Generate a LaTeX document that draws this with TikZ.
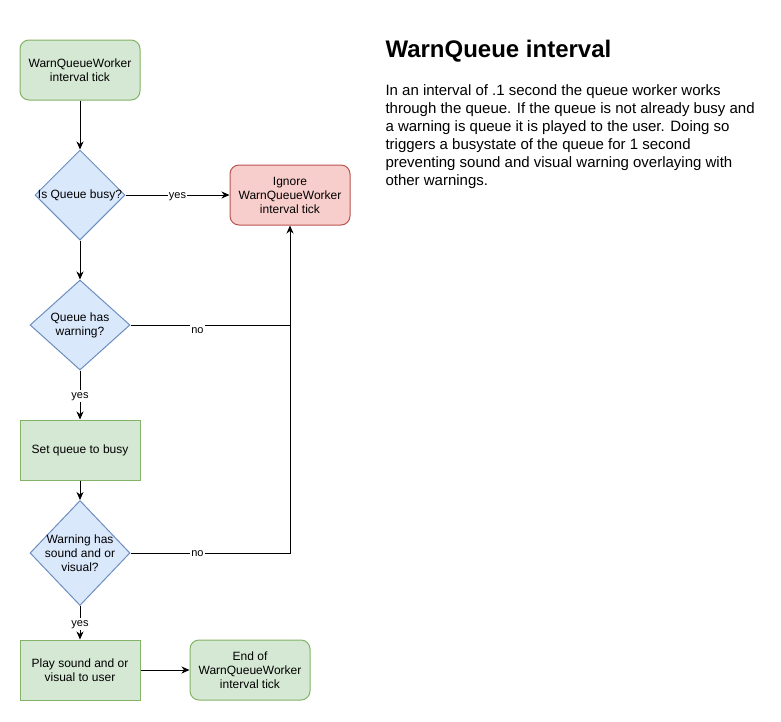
\documentclass[tikz,border=0pt]{standalone}
\usepackage{fontspec}
\setmainfont{Liberation Sans}
\usetikzlibrary{arrows.meta,shapes.geometric}

\definecolor{greenfill}{HTML}{D5E8D4}
\definecolor{greenline}{HTML}{82B366}
\definecolor{bluefill}{HTML}{DAE8FC}
\definecolor{blueline}{HTML}{6C8EBF}
\definecolor{redfill}{HTML}{F8CECC}
\definecolor{redline}{HTML}{B85450}

\begin{document}
\begin{tikzpicture}[x=1pt,y=-1pt,->,>={Stealth[length=8pt,width=7pt,inset=2.5pt]},line width=1pt,
  font=\fontsize{12}{14}\selectfont,
  box node/.style={draw=greenline,fill=greenfill,minimum width=120pt,minimum height=60pt,align=center,inner sep=2pt},
  round node/.style={box node,rounded corners=9pt},
  ignore node/.style={round node,draw=redline,fill=redfill},
  decision node/.style={diamond,draw=blueline,fill=bluefill,inner sep=0pt},
  edge label/.style={fill=white,inner sep=1pt,text height=8pt,text depth=2.5pt,yshift=-1pt,font=\fontsize{11}{13}\selectfont}]

  \useasboundingbox (0,0) rectangle (781,721);

  \node[round node] (tick) at (80,70) {WarnQueueWorker\\interval tick};
  % the diamonds keep their text in a centre label, so the text can run over the edges
  \node[decision node,minimum width=90pt,minimum height=90pt,label={center:Is Queue busy?}] (busy) at (80,195) {};
  \node[ignore node] (ignore) at (290,195) {Ignore\\WarnQueueWorker\\interval tick};
  \node[decision node,minimum width=100pt,minimum height=90pt,label={[align=center]center:Queue has\\warning?}] (haswarn) at (80,325) {};
  \node[box node] (setbusy) at (80,450) {Set queue to busy};
  \node[decision node,minimum width=100pt,minimum height=105pt,label={[align=center]center:Warning has\\sound and or\\visual?}] (hassound) at (80,553) {};
  \node[box node] (play) at (80,670) {Play sound and or\\visual to user};
  \node[round node] (endtick) at (250,670) {End of\\WarnQueueWorker\\interval tick};

  \coordinate (join) at (290,325);

  \path
    (tick)     edge (busy)
    (busy)     edge node[edge label] {yes} (ignore)
               edge (haswarn)
    (haswarn)  edge node[edge label] {yes} (setbusy)
    (setbusy)  edge (hassound)
    (hassound) edge node[edge label] {yes} (play)
    (play)     edge (endtick);

  \draw (haswarn.east) -| node[edge label,pos=0.21,yshift=-4.5pt] {no} (ignore.south);
  \draw[-] (hassound.east) -| node[edge label,pos=0.21] {no} (join);

  \node[anchor=base west,inner sep=0pt,font=\fontsize{24}{28}\bfseries\selectfont] (title) at (385,57.5) {WarnQueue interval};
  % base of a multi-line node is the last line
  \node[anchor=base west,inner sep=0pt,align=left,font=\fontsize{15}{18}\selectfont] (desc) at (385,185) {%
    In an interval of .1 second the queue worker works\\
    through the queue. If the queue is not already busy and\\
    a warning is queue it is played to the user. Doing so\\
    triggers a busystate of the queue for 1 second\\
    preventing sound and visual warning overlaying with\\
    other warnings.};
\end{tikzpicture}
\end{document}
